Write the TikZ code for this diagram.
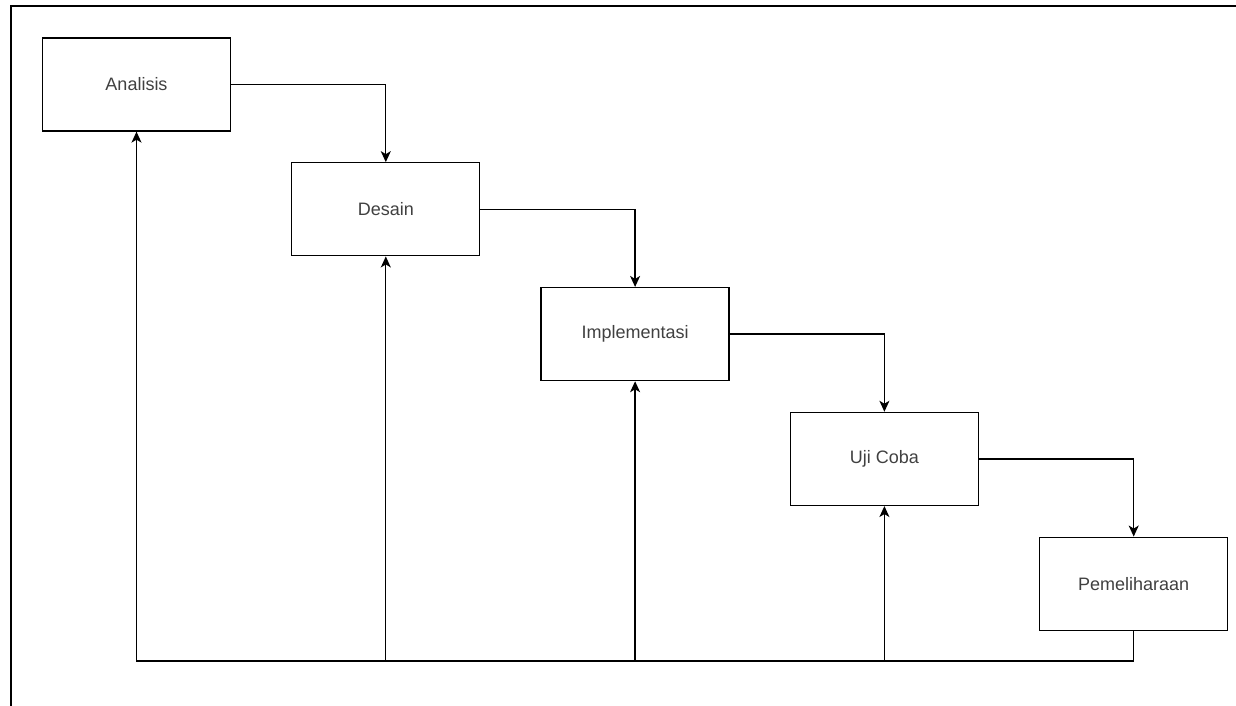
\documentclass[tikz,border=0pt]{standalone}
\usepackage{fontspec}
\setmainfont{Liberation Sans}
\usetikzlibrary{positioning}
\usetikzlibrary{arrows.meta}

\begin{document}
\begin{tikzpicture}
		[x=1pt, y=-1pt,
		phase/.style={rectangle, draw=black, line width=1.3pt, minimum width=188pt, minimum height=93pt, inner sep=0pt, font=\fontsize{18}{21}\selectfont, text=black!75},
		flow/.style={draw=black, line width=1.3pt, -{Stealth[length=11pt, width=10pt, inset=3pt]}}]
		\useasboundingbox (0,0) rectangle (1236,706);
		\draw[line width=1.8pt] (1236,6) -- (11,6) -- (11,706);

		\node[phase] (ana) at (136.5,84.5) {Analisis};
		\node[phase, below right=30.5pt and 60pt of ana] (des) {Desain};
		\node[phase, below right=30.5pt and 60pt of des] (imp) {Implementasi};
		\node[phase, below right=30.5pt and 60pt of imp] (uji) {Uji Coba};
		\node[phase, below right=30.5pt and 60pt of uji] (pem) {Pemeliharaan};
		\coordinate[below=30pt of pem.south] (bot);

		\draw[flow] (ana.east) -| (des.north);
		\draw[flow] (des.east) -| (imp.north);
		\draw[flow] (imp.east) -| (uji.north);
		\draw[flow] (uji.east) -| (pem.north);
		\draw[flow] (pem.south) -- (bot) -| (ana.south);
		\foreach \n in {des,imp,uji}
			\draw[flow] (\n.south |- bot) -- (\n.south);
	\end{tikzpicture}
\end{document}
